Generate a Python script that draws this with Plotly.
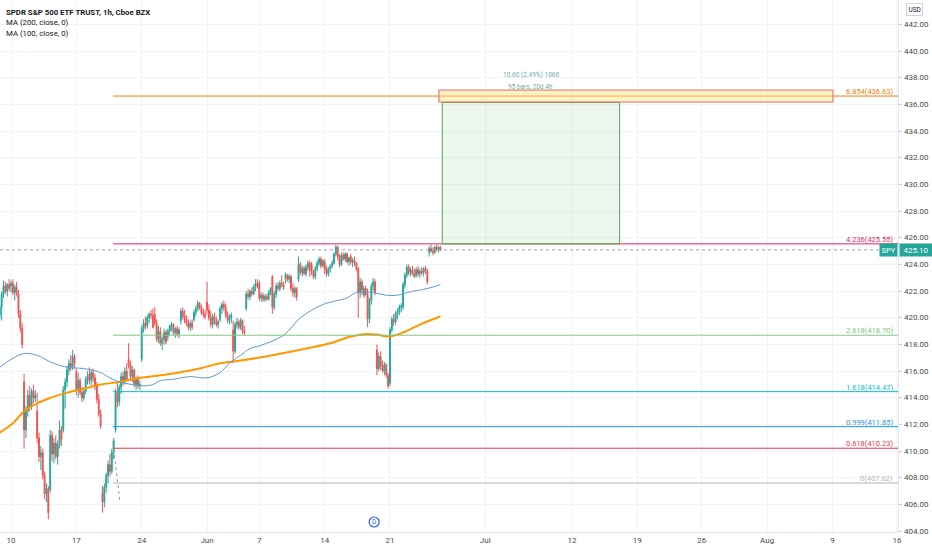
import plotly.graph_objects as go

# SPY 1h bars, one row per trading day (7 bars each), 7 May -> 24 Jun 2021
open_days = [
    [419.6, 420.2, 420.8, 421.8, 422.4, 422.0, 422.5],
    [422.4, 422.6, 421.9, 422.3, 421.8, 420.3, 419.2],
    [415.2, 411.6, 413.0, 414.2, 413.4, 414.5, 414.0],
    [413.0, 411.0, 409.6, 409.9, 408.2, 406.8, 407.2],
    [407.1, 411.2, 409.8, 410.6, 409.6, 410.5, 411.6],
    [411.6, 414.6, 415.2, 416.1, 416.6, 416.3, 417.1],
    [416.0, 414.6, 415.3, 414.4, 414.0, 414.5, 415.4],
    [415.8, 415.3, 415.9, 415.5, 414.9, 413.9, 412.8],
    [406.9, 406.2, 407.3, 408.2, 409.0, 408.5, 409.9],
    [411.6, 414.4, 413.7, 414.8, 415.6, 415.2, 416.0],
    [416.9, 416.5, 415.6, 416.1, 415.0, 415.4, 414.9],
    [416.9, 419.2, 419.6, 419.4, 420.0, 420.3, 420.2],
    [420.3, 419.6, 418.4, 419.0, 418.1, 418.4, 418.9],
    [418.6, 419.0, 419.4, 419.5, 418.9, 419.2, 418.8],
    [419.8, 420.5, 420.1, 419.8, 419.6, 419.3, 419.6],
    [419.9, 420.4, 420.7, 421.1, 420.8, 420.4, 420.3],
    [421.2, 420.6, 420.0, 419.5, 420.1, 419.8, 419.5],
    [419.9, 420.7, 421.0, 420.8, 420.2, 419.8, 420.0],
    [419.1, 417.5, 419.5, 419.7, 419.3, 419.8, 419.0],
    [420.7, 421.8, 421.6, 422.0, 421.8, 422.3, 422.6],
    [422.6, 421.5, 421.7, 421.4, 421.6, 421.4, 421.9],
    [423.1, 420.8, 421.8, 422.4, 422.2, 422.6, 422.5],
    [423.0, 423.2, 422.9, 423.1, 422.2, 421.9, 422.2],
    [422.9, 424.0, 423.4, 423.7, 423.3, 423.8, 424.1],
    [424.0, 423.4, 423.1, 423.7, 424.1, 424.4, 423.9],
    [424.2, 423.6, 423.3, 423.7, 423.9, 424.1, 424.8],
    [425.3, 424.6, 424.0, 424.7, 424.4, 424.8, 424.2],
    [424.6, 424.2, 424.3, 424.1, 423.7, 421.9, 422.7],
    [421.7, 422.2, 421.8, 419.9, 421.3, 422.4, 422.7],
    [417.6, 416.2, 417.1, 416.4, 416.0, 416.5, 415.7],
    [415.1, 419.1, 419.9, 419.7, 420.3, 420.5, 420.8],
    [420.8, 422.5, 423.2, 423.8, 423.4, 423.6, 423.3],
    [423.2, 423.6, 423.3, 423.5, 423.4, 423.7, 423.5],
    [424.9, 425.2, 425.0, 424.9, 425.3, 425.1, 425.3],
]
high_days = [
    [420.4, 421.0, 422.0, 422.8, 422.7, 422.6, 422.9],
    [422.8, 422.9, 422.5, 422.7, 422.1, 420.6, 419.6],
    [415.8, 413.4, 414.6, 414.9, 414.7, 415.0, 414.6],
    [414.4, 411.4, 410.4, 410.2, 408.5, 407.6, 407.4],
    [411.6, 411.5, 411.0, 411.2, 410.8, 412.3, 411.9],
    [414.9, 415.5, 416.4, 416.9, 417.2, 417.6, 417.3],
    [416.2, 415.9, 415.5, 414.8, 414.7, 415.6, 416.0],
    [416.3, 416.1, 416.2, 415.8, 415.2, 414.3, 413.1],
    [407.4, 407.6, 408.4, 409.3, 409.8, 410.2, 411.0],
    [414.7, 415.2, 415.0, 415.9, 416.0, 416.3, 416.6],
    [418.1, 416.8, 416.4, 416.2, 415.6, 415.7, 415.3],
    [419.4, 419.9, 420.1, 420.2, 420.4, 420.6, 420.7],
    [420.8, 419.9, 419.4, 419.3, 418.6, 419.2, 419.1],
    [419.2, 419.5, 419.7, 419.6, 419.3, 419.4, 419.3],
    [420.7, 420.8, 420.6, 420.2, 419.9, 419.8, 419.9],
    [420.6, 420.9, 421.3, 421.2, 421.0, 420.7, 420.6],
    [422.7, 421.0, 420.5, 420.3, 420.4, 420.1, 419.9],
    [420.9, 421.2, 421.3, 421.1, 420.5, 420.3, 420.4],
    [419.8, 419.7, 420.0, 419.9, 420.0, 419.9, 419.4],
    [422.0, 422.2, 422.1, 422.3, 422.5, 422.9, 422.9],
    [422.8, 421.9, 421.9, 421.8, 421.8, 422.1, 422.3],
    [423.2, 422.0, 422.6, 422.7, 422.8, 423.2, 422.7],
    [423.4, 423.3, 423.3, 423.2, 422.6, 422.4, 422.3],
    [424.6, 424.2, 423.9, 423.9, 424.0, 424.3, 424.3],
    [424.2, 423.6, 423.9, 424.3, 424.6, 424.6, 424.4],
    [424.4, 423.9, 423.8, 424.0, 424.3, 424.9, 425.5],
    [425.4, 424.8, 424.9, 424.9, 424.9, 424.9, 424.6],
    [424.8, 424.5, 424.6, 424.2, 423.8, 423.0, 422.9],
    [422.4, 422.4, 422.2, 421.5, 422.6, 423.0, 422.9],
    [418.0, 417.4, 417.5, 416.8, 416.7, 416.6, 415.9],
    [419.3, 420.1, 420.3, 420.5, 420.7, 421.0, 421.1],
    [422.7, 423.4, 424.0, 424.0, 423.8, 423.9, 423.7],
    [423.8, 423.9, 423.7, 423.8, 423.8, 423.9, 423.7],
    [425.4, 425.5, 425.3, 425.4, 425.5, 425.4, 425.4],
]
low_days = [
    [419.3, 419.9, 419.8, 421.5, 421.8, 421.6, 422.0],
    [421.9, 421.7, 421.3, 421.6, 420.0, 418.9, 417.7],
    [410.2, 411.0, 412.6, 413.0, 413.1, 413.6, 413.7],
    [410.6, 409.2, 408.6, 407.9, 406.4, 406.2, 404.9],
    [406.9, 409.3, 409.1, 409.4, 409.0, 410.2, 410.4],
    [411.4, 413.2, 414.8, 415.7, 416.0, 416.1, 416.2],
    [414.2, 414.0, 414.2, 413.7, 413.8, 414.3, 415.0],
    [415.0, 414.9, 415.2, 414.6, 413.6, 412.6, 411.7],
    [405.4, 405.8, 406.9, 407.6, 408.1, 408.3, 409.4],
    [411.4, 413.3, 413.4, 414.3, 414.9, 415.0, 415.3],
    [416.2, 415.3, 415.2, 414.8, 414.6, 414.7, 414.6],
    [416.7, 418.9, 419.1, 419.2, 419.6, 419.9, 419.2],
    [419.4, 418.2, 418.1, 417.9, 417.6, 418.0, 418.0],
    [418.3, 418.7, 419.0, 418.7, 418.5, 418.6, 418.5],
    [419.5, 419.9, 419.6, 419.4, 419.1, 419.0, 419.1],
    [419.7, 420.1, 420.5, 420.6, 420.2, 420.0, 419.9],
    [420.3, 419.8, 419.3, 419.2, 419.5, 419.3, 419.2],
    [419.7, 420.3, 420.5, 420.0, 419.6, 419.5, 419.6],
    [416.6, 417.3, 419.2, 419.1, 419.1, 418.8, 418.7],
    [420.5, 421.4, 421.3, 421.6, 421.7, 422.0, 422.2],
    [421.3, 421.2, 421.2, 421.2, 421.3, 421.3, 421.7],
    [420.3, 420.6, 421.5, 422.0, 422.0, 422.3, 422.1],
    [422.6, 422.7, 422.6, 422.0, 421.6, 421.5, 421.3],
    [422.7, 423.2, 423.1, 423.2, 423.1, 423.5, 423.1],
    [423.2, 422.9, 422.9, 423.5, 423.9, 423.7, 423.8],
    [423.3, 423.1, 423.1, 423.4, 423.7, 424.0, 424.6],
    [424.3, 423.8, 423.9, 424.3, 424.2, 424.1, 423.9],
    [424.0, 423.8, 423.9, 423.5, 420.0, 421.5, 421.7],
    [421.5, 421.6, 419.3, 419.6, 421.0, 422.0, 421.7],
    [415.7, 416.0, 416.1, 415.9, 415.7, 415.5, 414.7],
    [414.9, 418.9, 419.4, 419.5, 419.9, 420.2, 420.4],
    [420.6, 422.2, 423.0, 423.2, 423.1, 423.2, 423.0],
    [423.0, 423.1, 423.0, 423.2, 423.1, 423.3, 422.5],
    [424.6, 424.9, 424.7, 424.8, 425.0, 424.9, 425.0],
]
close_days = [
    [420.2, 420.8, 421.8, 422.4, 422.0, 422.5, 422.2],
    [422.6, 421.9, 422.3, 421.8, 420.3, 419.2, 418.0],
    [411.6, 413.0, 414.2, 413.4, 414.5, 414.0, 414.2],
    [411.0, 409.6, 409.9, 408.2, 406.8, 407.2, 405.4],
    [411.2, 409.8, 410.6, 409.6, 410.5, 411.6, 410.9],
    [414.6, 415.2, 416.1, 416.6, 416.3, 417.1, 416.6],
    [414.6, 415.3, 414.4, 414.0, 414.5, 415.4, 415.6],
    [415.3, 415.9, 415.5, 414.9, 413.9, 412.8, 411.9],
    [406.2, 407.3, 408.2, 409.0, 408.5, 409.9, 410.8],
    [414.4, 413.7, 414.8, 415.6, 415.2, 416.0, 415.4],
    [416.5, 415.6, 416.1, 415.0, 415.4, 414.9, 415.0],
    [419.2, 419.6, 419.4, 420.0, 420.3, 420.2, 419.3],
    [419.6, 418.4, 419.0, 418.1, 418.4, 418.9, 418.2],
    [419.0, 419.4, 419.5, 418.9, 419.2, 418.8, 419.1],
    [420.5, 420.1, 419.8, 419.6, 419.3, 419.6, 419.3],
    [420.4, 420.7, 421.1, 420.8, 420.4, 420.3, 420.1],
    [420.6, 420.0, 419.5, 420.1, 419.8, 419.5, 419.7],
    [420.7, 421.0, 420.8, 420.2, 419.8, 420.0, 420.2],
    [417.5, 419.5, 419.7, 419.3, 419.8, 419.0, 418.9],
    [421.8, 421.6, 422.0, 421.8, 422.3, 422.6, 422.5],
    [421.5, 421.7, 421.4, 421.6, 421.4, 421.9, 422.2],
    [420.8, 421.8, 422.4, 422.2, 422.6, 422.5, 422.3],
    [423.2, 422.9, 423.1, 422.2, 421.9, 422.2, 421.6],
    [424.0, 423.4, 423.7, 423.3, 423.8, 424.1, 423.6],
    [423.4, 423.1, 423.7, 424.1, 424.4, 423.9, 424.3],
    [423.6, 423.3, 423.7, 423.9, 424.1, 424.8, 425.3],
    [424.6, 424.0, 424.7, 424.4, 424.8, 424.2, 424.5],
    [424.2, 424.3, 424.1, 423.7, 421.9, 422.7, 422.1],
    [422.2, 421.8, 419.9, 421.3, 422.4, 422.7, 421.9],
    [416.2, 417.1, 416.4, 416.0, 416.5, 415.7, 414.9],
    [419.1, 419.9, 419.7, 420.3, 420.5, 420.8, 420.9],
    [422.5, 423.2, 423.8, 423.4, 423.6, 423.3, 423.1],
    [423.6, 423.3, 423.5, 423.4, 423.7, 423.5, 422.7],
    [425.2, 425.0, 424.9, 425.3, 425.1, 425.3, 425.1],
]

# moving averages (bar index, value)
ma100_bars = [1, 13, 21, 28, 37, 46, 55, 60, 65, 72, 78, 83, 87, 94, 103, 112,
              119, 124, 130, 135, 140, 153, 162, 174, 187, 192, 201, 208, 214, 219, 230, 237]
ma100_vals = [416.3, 417.3, 417.2, 416.7, 416.3, 416.2, 415.9, 415.5, 415.2, 415.0, 414.9, 415.0,
              415.3, 415.4, 415.6, 415.5, 415.9, 416.6, 417.2, 417.7, 417.9, 418.7, 420.0, 421.0,
              421.5, 421.9, 421.9, 421.7, 421.7, 421.9, 422.2, 422.5]
ma200_bars = [1, 8, 14, 21, 28, 37, 46, 55, 65, 76, 87, 97, 108, 119, 130, 147,
              165, 178, 189, 198, 203, 209, 217, 226, 237]
ma200_vals = [411.4, 412.1, 413.0, 413.6, 414.0, 414.4, 414.7, 415.0, 415.2, 415.5, 415.7, 415.9,
              416.2, 416.6, 416.8, 417.2, 417.7, 418.1, 418.6, 418.8, 418.75, 418.6, 418.9, 419.5, 420.1]

# trend-based fib extension
fib_ratios = ["6.854", "4.236", "2.618", "1.618", "0.999", "0.618", "0"]
fib_prices = [436.63, 425.55, 418.70, 414.47, 411.85, 410.23, 407.62]
fib_colors = ["#f57c00", "#e91e63", "#81c784", "#00bcd4", "#2196f3", "#f23645", "#b2b5be"]
fib_start_bar = 61.6
fib_trend_bars = [61.6, 65.3]
fib_trend_prices = [410.6, 406.3]

# date & price range tool
range_start_bar = 238
range_bars = 95
range_low = 425.55
range_move = 10.60
range_label = ["10.60 (2.49%) 1060", "95 bars, 20d 4h"]

# target zone box
zone_bars = [236.2, 447.3]
zone_prices = [436.18, 437.08]

# dividend marker
dividend_bar = 201.5
dividend_price = 404.7

tick_bars = [7, 42, 77, 112, 140, 175, 210, 261, 307.5, 342.5, 377, 412, 447, 481.5]
tick_text = ["10", "17", "24", "Jun", "7", "14", "21", "Jul", "12", "19", "26", "Aug", "9", "16"]
price_ticks = list(range(404, 444, 2))

x_range = [1.11, 482.1]
y_range = [403.95, 443.83]

open_ = [v for d in open_days for v in d]
high = [v for d in high_days for v in d]
low = [v for d in low_days for v in d]
close = [v for d in close_days for v in d]
bars = list(range(len(close)))

UP = "#26a69a"
DOWN = "#ef5350"
FONT = "Roboto"

fig = go.Figure()

fig.add_trace(go.Scatter(x=ma200_bars, y=ma200_vals, mode="lines", line_shape="spline",
                         line=dict(color="#ff9800", width=2), hoverinfo="skip"))
fig.add_trace(go.Scatter(x=ma100_bars, y=ma100_vals, mode="lines", line_shape="spline",
                         line=dict(color="#5b9bd5", width=1), hoverinfo="skip"))

fig.add_trace(go.Candlestick(
    x=bars, open=open_, high=high, low=low, close=close,
    increasing=dict(line=dict(color=UP, width=1), fillcolor=UP),
    decreasing=dict(line=dict(color=DOWN, width=1), fillcolor=DOWN),
    whiskerwidth=0, hoverinfo="skip",
))

fig.add_trace(go.Scatter(x=fib_trend_bars, y=fib_trend_prices, mode="lines",
                         line=dict(color="#9598a1", width=1, dash="dot"), hoverinfo="skip"))

fig.add_trace(go.Scatter(x=[dividend_bar], y=[dividend_price], mode="markers+text",
                         text=["D"], textposition="middle center",
                         textfont=dict(size=6.5, color="#2962ff", family=FONT),
                         marker=dict(symbol="circle-open", size=10, color="#2962ff",
                                     line=dict(width=1.2, color="#2962ff")),
                         hoverinfo="skip"))

shapes = []
annotations = []

# price scale labels, placed on the y axis scale
for v in price_ticks:
    annotations.append(dict(xref="paper", yref="y", x=1, y=v, xanchor="left", yanchor="middle",
                            xshift=4, showarrow=False, text=f"{v:.2f}",
                            font=dict(size=8, color="#4a4a4a", family=FONT)))

for ratio, price, color in zip(fib_ratios, fib_prices, fib_colors):
    shapes.append(dict(type="line", xref="x", yref="y", x0=fib_start_bar, x1=x_range[1],
                       y0=price, y1=price, line=dict(color=color, width=1)))
    annotations.append(dict(xref="paper", yref="y", x=1, y=price, xanchor="right", yanchor="bottom",
                            xshift=-3, yshift=-2, showarrow=False,
                            text=f"{ratio}({price:.2f})", font=dict(size=7.5, color=color, family=FONT)))

# range box
shapes.append(dict(type="rect", xref="x", yref="y", x0=range_start_bar, x1=range_start_bar + range_bars,
                   y0=range_low, y1=range_low + range_move,
                   line=dict(color="#4caf50", width=1), fillcolor="rgba(76,175,80,0.10)"))
# target zone
shapes.append(dict(type="rect", xref="x", yref="y", x0=zone_bars[0], x1=zone_bars[1],
                   y0=zone_prices[0], y1=zone_prices[1],
                   line=dict(color="#e06666", width=1), fillcolor="rgba(255,226,130,0.45)"))

mid_bar = range_start_bar + range_bars / 2
annotations.append(dict(xref="x", yref="paper", x=mid_bar, y=1, yshift=-75, xanchor="center",
                        yanchor="middle", showarrow=False, text=range_label[0],
                        font=dict(size=6.5, color="#6aae9f", family=FONT)))
annotations.append(dict(xref="x", yref="paper", x=mid_bar, y=1, yshift=-87, xanchor="center",
                        yanchor="middle", showarrow=False, text=range_label[1],
                        font=dict(size=6.5, color="#6aae9f", family=FONT)))

# last price line + labels
last = close[-1]
shapes.append(dict(type="line", xref="paper", yref="y", x0=0, x1=0.98, y0=last, y1=last,
                   line=dict(color="#9aa0a6", width=1, dash="dot")))
annotations.append(dict(xref="paper", yref="y", x=1, y=last, xanchor="right", yanchor="middle",
                        showarrow=False, text="SPY", bgcolor=UP, borderpad=1.5,
                        font=dict(size=7.5, color="white", family=FONT)))
annotations.append(dict(xref="paper", yref="y", x=1, y=last, xanchor="left", yanchor="middle",
                        showarrow=False, text=f"{last:.2f}", bgcolor=UP, borderpad=1.5, xshift=1,
                        width=29, font=dict(size=8, color="white", family=FONT)))

# header
header = ["<b>SPDR S&P 500 ETF TRUST, 1h, Cboe BZX</b>", "MA (200, close, 0)", "MA (100, close, 0)"]
for i, t in enumerate(header):
    annotations.append(dict(xref="paper", yref="paper", x=0, y=1, xanchor="left", yanchor="middle",
                            xshift=4, yshift=-12 - 10.5 * i, showarrow=False, text=t,
                            font=dict(size=7.8, color="#131722", family=FONT)))
annotations.append(dict(xref="paper", yref="paper", x=1, y=1, xanchor="left", yanchor="middle",
                        xshift=8, yshift=-9, showarrow=False, text="USD", bordercolor="#d1d4dc",
                        borderwidth=1, borderpad=1.5, font=dict(size=6.5, color="#131722", family=FONT)))

fig.update_layout(
    width=932, height=550,
    margin=dict(l=0, r=34, t=0, b=18),
    paper_bgcolor="white", plot_bgcolor="white",
    showlegend=False,
    shapes=shapes, annotations=annotations,
    font=dict(family=FONT, size=8, color="#131722"),
    # keep the modebar out of the picture
    modebar=dict(bgcolor="rgba(0,0,0,0)", color="rgba(0,0,0,0)", activecolor="rgba(0,0,0,0)"),
)
fig.update_xaxes(range=x_range, tickvals=tick_bars, ticktext=tick_text,
                 showgrid=True, gridcolor="#f0f3fa", zeroline=False,
                 showline=True, linecolor="#e0e3eb", ticks="",
                 tickfont=dict(size=8, color="#4a4a4a"),
                 rangeslider=dict(visible=False))
fig.update_yaxes(range=y_range, side="right", tickvals=price_ticks, showticklabels=False,
                 showgrid=True, gridcolor="#f0f3fa", zeroline=False,
                 showline=True, linecolor="#e0e3eb", ticks="outside", ticklen=3, tickcolor="#c8cbd3")

fig.write_html("out.html", config={"displaylogo": False},
               post_script="document.body.style.margin='0';document.body.style.overflow='hidden';")
